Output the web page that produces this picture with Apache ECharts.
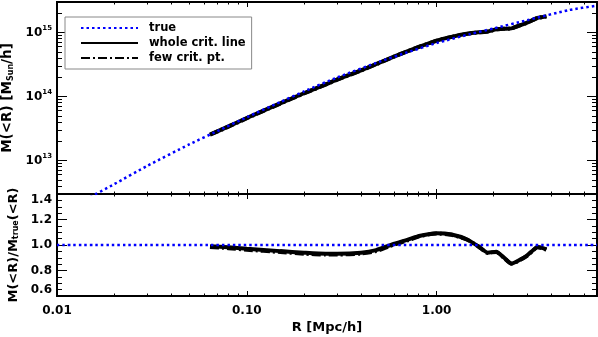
<!DOCTYPE html>
<html>
<head>
<meta charset="utf-8">
<script src="https://cdn.jsdelivr.net/npm/echarts@6/dist/echarts.min.js"></script>
<style>
  html, body { margin: 0; padding: 0; background: #fff; }
  #main { width: 598px; height: 337px; }
</style>
</head>
<body>
<div id="main"></div>
<script>
// true profile (dotted blue)
const trueR = [0.015, 0.02, 0.03, 0.05, 0.07, 0.1, 0.15, 0.2, 0.3, 0.5, 0.7, 1.0, 1.5, 2.0, 3.0, 5.0, 7.0];
const trueM = [2.7e12, 4.27e12, 8.3e12, 1.8e13, 2.88e13, 4.75e13, 8.2e13, 1.2e14, 1.99e14, 3.5e14, 4.9e14, 6.85e14, 9.44e14, 1.16e15, 1.56e15, 2.25e15, 2.63e15];

// reconstructed profiles
const fitR = [0.064, 0.08, 0.1, 0.15, 0.2, 0.26, 0.3, 0.4, 0.48, 0.6, 0.7, 0.82, 1.0, 1.2, 1.44, 1.66, 1.86, 2.06, 2.25, 2.48, 2.7, 2.98, 3.2, 3.4, 3.6, 3.79];
const lineM = [2.55e13, 3.41e13, 4.62e13, 7.83e13, 1.125e14, 1.547e14, 1.85e14, 2.57e14, 3.21e14, 4.24e14, 5.09e14, 6.08e14, 7.47e14, 8.56e14, 9.55e14, 1.007e15, 1.035e15, 1.124e15, 1.148e15, 1.161e15, 1.27e15, 1.42e15, 1.56e15, 1.69e15, 1.74e15, 1.79e15];
const pointM = [2.53e13, 3.38e13, 4.58e13, 7.77e13, 1.115e14, 1.535e14, 1.835e14, 2.55e14, 3.19e14, 4.22e14, 5.07e14, 6.06e14, 7.45e14, 8.54e14, 9.53e14, 1.005e15, 1.033e15, 1.122e15, 1.146e15, 1.159e15, 1.268e15, 1.418e15, 1.558e15, 1.688e15, 1.738e15, 1.788e15];
const lineRatio = [0.99, 0.982, 0.971, 0.952, 0.94, 0.932, 0.932, 0.94, 0.96, 1.01, 1.04, 1.072, 1.092, 1.082, 1.045, 0.99, 0.94, 0.948, 0.905, 0.855, 0.878, 0.915, 0.955, 0.985, 0.978, 0.965];
const pointRatio = [0.985, 0.975, 0.963, 0.945, 0.932, 0.925, 0.925, 0.933, 0.953, 1.005, 1.035, 1.07, 1.09, 1.08, 1.043, 0.988, 0.938, 0.946, 0.903, 0.853, 0.876, 0.913, 0.953, 0.983, 0.976, 0.963];
const unitR = [0.01, 7];
const unitRatio = [1, 1];

// ticks
const xMajor = [0.01, 0.1, 1];
const yMajor = [1e13, 1e14, 1e15];
const xMinor = [];
[0.01, 0.1, 1].forEach(d => { for (let k = 2; k <= 9; k++) if (d * k < 7) xMinor.push(d * k); });
const yMinor = [];
[1e12, 1e13, 1e14, 1e15].forEach(d => { for (let k = 2; k <= 9; k++) { const v = d * k; if (v > 3e12 && v < 2.9e15) yMinor.push(v); } });

const FONT = 'DejaVu Sans';
const zip = (a, b) => a.map((v, i) => [v, b[i]]);

const axLine = { show: true, onZero: false, lineStyle: { color: '#000', width: 2 } };

// log x axis for a grid
function xAx(grid, pos, ticks, len, label) {
  return {
    type: 'log', logBase: 10, gridIndex: grid, position: pos, min: 0.01, max: 7,
    axisLine: axLine,
    axisTick: { show: true, inside: true, length: len, customValues: ticks, lineStyle: { color: '#000', width: 1 } },
    axisLabel: label ? {
      show: true, customValues: xMajor, margin: 9, color: '#000',
      fontFamily: FONT, fontWeight: 'bold', fontSize: 12,
      formatter: v => Number(v).toFixed(2)
    } : { show: false },
    splitLine: { show: false }
  };
}

const subRich = { sub: { fontFamily: FONT, fontWeight: 'bold', fontSize: 8, verticalAlign: 'bottom', padding: [5, 0, 0, 0] } };

// log y axis of the upper panel
function yLog(pos, ticks, len, label) {
  return {
    type: 'log', logBase: 10, gridIndex: 0, position: pos, min: 3e12, max: 3e15,
    axisLine: axLine,
    axisTick: { show: true, inside: true, length: len, customValues: ticks, lineStyle: { color: '#000', width: 1 } },
    axisLabel: label ? {
      show: true, customValues: yMajor, margin: 5, color: '#000',
      formatter: v => '{b|10}{s|' + Math.round(Math.log10(v)) + '}',
      rich: {
        b: { fontFamily: FONT, fontWeight: 'bold', fontSize: 12, lineHeight: 16 },
        s: { fontFamily: FONT, fontWeight: 'bold', fontSize: 7, verticalAlign: 'top', lineHeight: 16 }
      }
    } : { show: false },
    splitLine: { show: false },
    name: label ? 'M(<R) [M{sub|Sun}/h]' : '',
    nameLocation: 'middle', nameGap: 36,
    nameTextStyle: { color: '#000', fontFamily: FONT, fontWeight: 'bold', fontSize: 13.5, rich: subRich }
  };
}

// ratio axis of the lower panel
function yRatio(pos, label) {
  return {
    type: 'value', gridIndex: 1, position: pos, min: 0.6, max: 1.4, interval: 0.2,
    axisLine: axLine,
    axisTick: { show: true, inside: true, length: 10, lineStyle: { color: '#000', width: 1 } },
    minorTick: { show: true, splitNumber: 4, length: 5, lineStyle: { color: '#000', width: 1 } },
    axisLabel: label ? {
      show: true, margin: 5, color: '#000', fontFamily: FONT, fontWeight: 'bold', fontSize: 12,
      formatter: v => v.toFixed(1),
      verticalAlignMinLabel: 'bottom', verticalAlignMaxLabel: 'top'
    } : { show: false },
    splitLine: { show: false }, minorSplitLine: { show: false },
    name: label ? 'M(<R)/M{sub|true}(<R)' : '',
    nameLocation: 'middle', nameGap: 31,
    nameTextStyle: { color: '#000', fontFamily: FONT, fontWeight: 'bold', fontSize: 13, rich: subRich }
  };
}

const blueDots = { color: '#0000ff', width: 2.5, type: [2.5, 3] };
const blackSolid = { color: '#000', width: 4 };
const blackDashDot = { color: '#000', width: 4, type: [9, 3, 2, 3] };

function line(name, grid, data, style) {
  return {
    name: name, type: 'line', xAxisIndex: grid * 4, yAxisIndex: grid * 4,
    data: data, showSymbol: false, symbol: 'none', smooth: 0.2,
    lineStyle: style, itemStyle: { color: style.color }, clip: true
  };
}

const xBottomName = {
  name: 'R [Mpc/h]', nameLocation: 'middle', nameGap: 25,
  nameTextStyle: { color: '#000', fontFamily: FONT, fontWeight: 'bold', fontSize: 13 }
};

const chart = echarts.init(document.getElementById('main'));
chart.setOption({
  animation: false,
  backgroundColor: '#fff',
  grid: [
    { left: 57, right: 1, top: 2, height: 192, containLabel: false, outerBoundsMode: 'none' },
    { left: 57, right: 1, top: 194, height: 102, containLabel: false, outerBoundsMode: 'none' }
  ],
  legend: {
    data: ['true', 'whole crit. line', 'few crit. pt.'],
    orient: 'vertical', left: 65, top: 17,
    padding: [5, 6, 5, 15], itemGap: 3, itemWidth: 57, itemHeight: 12,
    backgroundColor: '#fff', borderColor: '#888', borderWidth: 1,
    itemStyle: { opacity: 0 },
    lineStyle: { width: 2 },
    textStyle: { color: '#000', fontFamily: FONT, fontWeight: 'bold', fontSize: 11.5, padding: [0, 0, 0, 6] }
  },
  xAxis: [
    xAx(0, 'bottom', xMajor, 5, false),
    xAx(0, 'bottom', xMinor, 2.5, false),
    xAx(0, 'top', xMajor, 5, false),
    xAx(0, 'top', xMinor, 2.5, false),
    Object.assign(xAx(1, 'bottom', xMajor, 5, true), xBottomName),
    xAx(1, 'bottom', xMinor, 2.5, false),
    xAx(1, 'top', xMajor, 5, false),
    xAx(1, 'top', xMinor, 2.5, false)
  ],
  yAxis: [
    yLog('left', yMajor, 10, true),
    yLog('left', yMinor, 5, false),
    yLog('right', yMajor, 10, false),
    yLog('right', yMinor, 5, false),
    yRatio('left', true),
    yRatio('right', false)
  ],
  series: [
    line('whole crit. line', 0, zip(fitR, lineM), blackSolid),
    line('few crit. pt.', 0, zip(fitR, pointM), blackDashDot),
    line('true', 0, zip(trueR, trueM), blueDots),
    line('whole crit. line', 1, zip(fitR, lineRatio), blackSolid),
    line('few crit. pt.', 1, zip(fitR, pointRatio), blackDashDot),
    line('true', 1, zip(unitR, unitRatio), blueDots)
  ]
});
</script>
</body>
</html>
